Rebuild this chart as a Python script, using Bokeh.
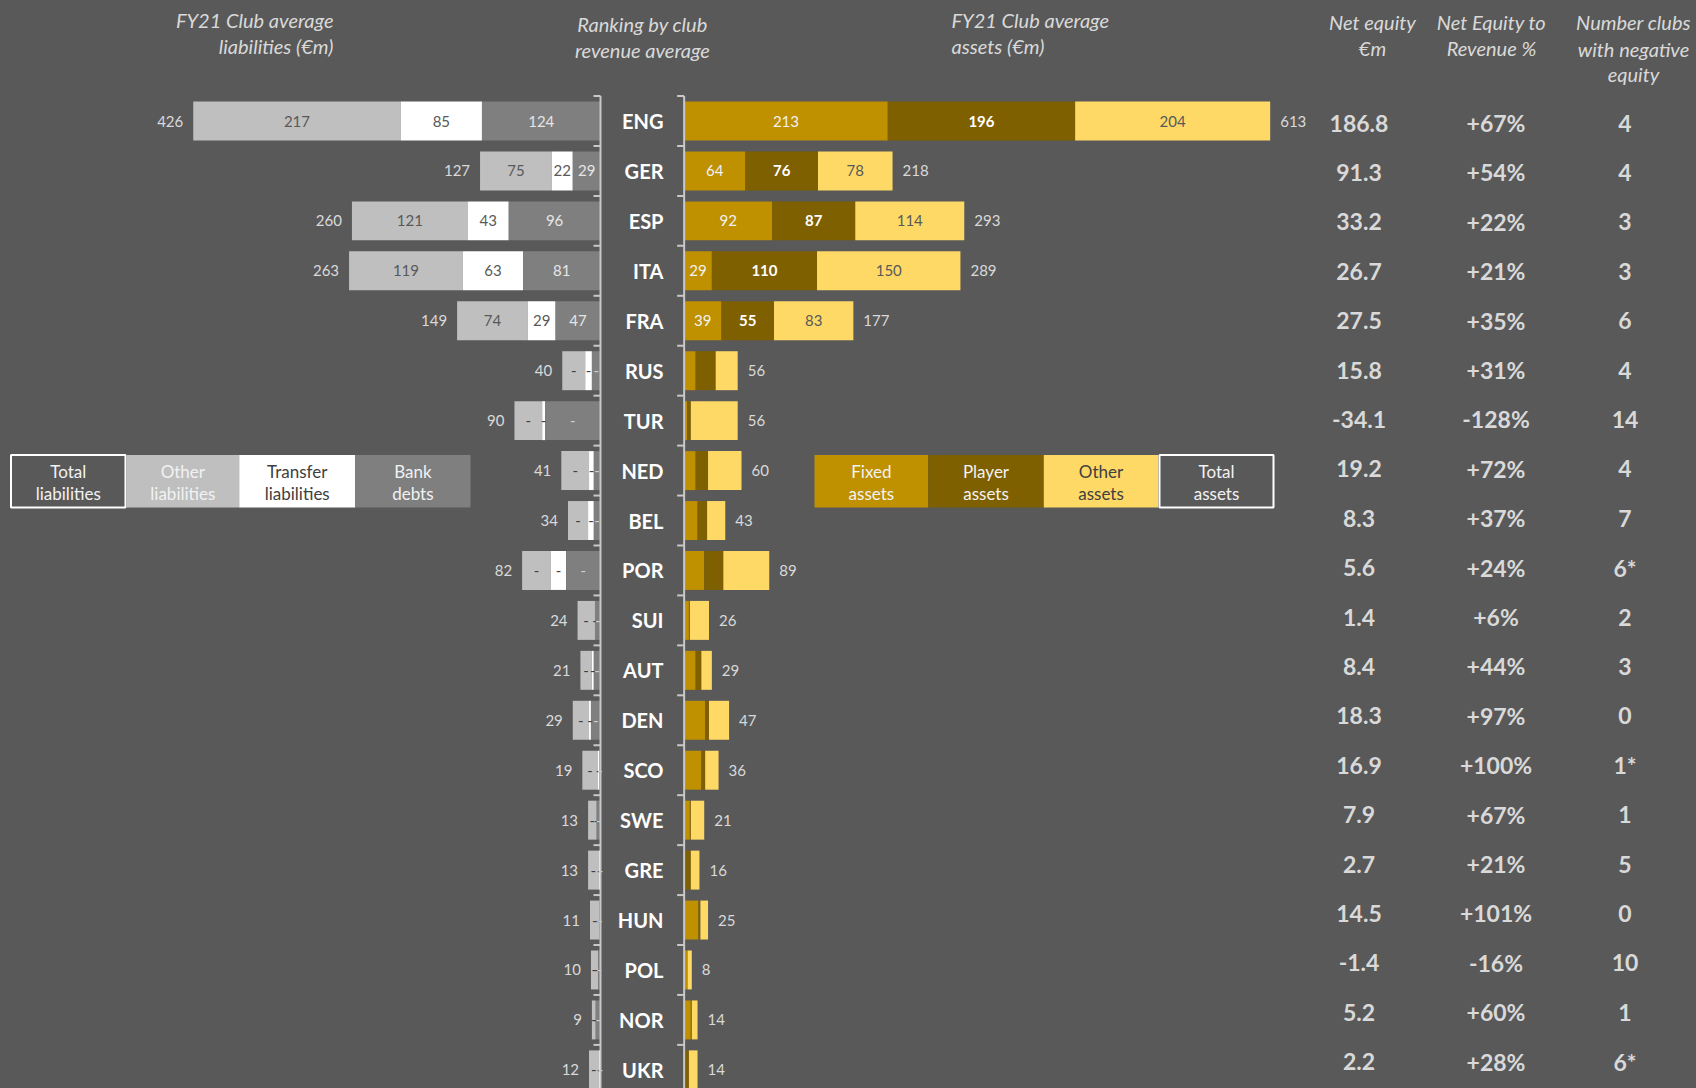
from bokeh.plotting import figure
from bokeh.models import Range1d, ColumnDataSource
from bokeh.embed import file_html
from bokeh.resources import INLINE
from bokeh.core.properties import value

# ---------------- data ----------------
countries = ["ENG", "GER", "ESP", "ITA", "FRA", "RUS", "TUR", "NED", "BEL", "POR",
             "SUI", "AUT", "DEN", "SCO", "SWE", "GRE", "HUN", "POL", "NOR", "UKR"]
total_liabilities = [426, 127, 260, 263, 149, 40, 90, 41, 34, 82, 24, 21, 29, 19, 13, 13, 11, 10, 9, 12]
other_liabilities = [217, 75, 121, 119, 74, 24, 29, 29, 21, 30, 18, 12, 17, 16, 9, 11, 10, 7, 4, 10]
transfer_liabilities = [85, 22, 43, 63, 29, 7, 3, 5, 6, 16, 0.5, 2, 2, 2, 0, 2, 0, 0.5, 0, 2]
bank_debts = [124, 29, 96, 81, 47, 9, 58, 7, 7, 36, 5.5, 7, 10, 1, 4, 0, 1, 2.5, 5, 0]
total_assets = [613, 218, 293, 289, 177, 56, 56, 60, 43, 89, 26, 29, 47, 36, 21, 16, 25, 8, 14, 14]
fixed_assets = [213, 64, 92, 29, 39, 12, 3, 12, 14, 21, 5, 12, 22, 18, 6, 1, 15, 3, 7, 1]
player_assets = [196, 76, 87, 110, 55, 21, 4, 13, 10, 20, 1, 6, 4, 4, 1, 6, 2, 0.5, 1, 4]
other_assets = [204, 78, 114, 150, 83, 23, 49, 35, 19, 48, 20, 11, 21, 14, 14, 9, 8, 4.5, 6, 9]
net_equity = ["186.8", "91.3", "33.2", "26.7", "27.5", "15.8", "-34.1", "19.2", "8.3", "5.6",
              "1.4", "8.4", "18.3", "16.9", "7.9", "2.7", "14.5", "-1.4", "5.2", "2.2"]
net_equity_to_revenue = ["+67%", "+54%", "+22%", "+21%", "+35%", "+31%", "-128%", "+72%", "+37%", "+24%",
                         "+6%", "+44%", "+97%", "+100%", "+67%", "+21%", "+101%", "-16%", "+60%", "+28%"]
negative_equity_clubs = ["4", "4", "3", "3", "6", "4", "14", "4", "7", "6*",
                         "2", "3", "0", "1*", "1", "5", "0", "10", "1", "6*"]
labelled_rows = 5  # first five leagues carry value labels

# ---------------- layout helpers ----------------
FONT = value("Lato")
BG = "#595959"
W, H = 1696, 1088
K = 0.956          # pixels per EUR m
ROW = 49.94        # pixels per row
X0, Y0 = 600.0, 120.5
GAP = 87.5         # space between the two axes, in EUR m units
BAR_H = 0.78


def dx(X):
    return (X - X0) / K


def dy(Y):
    return (Y - Y0) / ROW


p = figure(width=W, height=H,
           x_range=Range1d(dx(0), dx(W)), y_range=Range1d(dy(H), dy(0)),
           output_backend="svg", toolbar_location=None, min_border=0,
           x_axis_type=None, y_axis_type=None,
           background_fill_color=BG, border_fill_color=BG, outline_line_color=None)
p.grid.visible = False

n = len(countries)
rows = list(range(n))

# ---------------- liabilities (leftwards) ----------------
bank_r = [0.0] * n
bank_l = [-b for b in bank_debts]
tr_r = bank_l
tr_l = [-(b + t) for b, t in zip(bank_debts, transfer_liabilities)]
ot_r = tr_l
ot_l = [-(b + t + o) for b, t, o in zip(bank_debts, transfer_liabilities, other_liabilities)]

# ---------------- assets (rightwards) ----------------
fx_l = [GAP] * n
fx_r = [GAP + f for f in fixed_assets]
pl_l = fx_r
pl_r = [GAP + f + q for f, q in zip(fixed_assets, player_assets)]
oa_l = pl_r
oa_r = [GAP + f + q + o for f, q, o in zip(fixed_assets, player_assets, other_assets)]

segments = [
    (ot_l, ot_r, "#BFBFBF", other_liabilities, "#595959", "normal", "#404040"),
    (tr_l, tr_r, "#FFFFFF", transfer_liabilities, "#595959", "normal", "#404040"),
    (bank_l, bank_r, "#7F7F7F", bank_debts, "#E6E6E6", "normal", "#D0D0D0"),
    (fx_l, fx_r, "#BF9000", fixed_assets, "#F2F2F2", "normal", None),
    (pl_l, pl_r, "#7F6000", player_assets, "#FFFFFF", "bold", None),
    (oa_l, oa_r, "#FFD966", other_assets, "#595959", "normal", None),
]

for left, right, color, vals, tcol, tstyle, dashcol in segments:
    src = ColumnDataSource(dict(y=rows, left=left, right=right))
    p.hbar(y="y", left="left", right="right", height=BAR_H, source=src,
           fill_color=color, line_color=None)

for left, right, color, vals, tcol, tstyle, dashcol in segments:
    mids = [(a + b) / 2 for a, b in zip(left, right)]
    lab = ColumnDataSource(dict(x=mids[:labelled_rows], y=rows[:labelled_rows],
                                t=[str(v) for v in vals[:labelled_rows]]))
    p.text(x="x", y="y", text="t", source=lab, text_font=FONT, text_font_size=value("15px"),
           text_font_style=tstyle, text_color=tcol, text_align="center", text_baseline="middle")
    if dashcol:
        dl = ColumnDataSource(dict(x=mids[labelled_rows:], y=rows[labelled_rows:],
                                   t=["-"] * (n - labelled_rows)))
        p.text(x="x", y="y", text="t", source=dl, text_font=FONT, text_font_size=value("15px"),
               text_color=dashcol, text_align="center", text_baseline="middle")

# totals
tl = ColumnDataSource(dict(x=[v - 10 / K for v in ot_l], y=rows, t=[str(v) for v in total_liabilities]))
p.text(x="x", y="y", text="t", source=tl, text_font=FONT, text_font_size=value("15px"),
       text_color="#D9D9D9", text_align="right", text_baseline="middle")
ta = ColumnDataSource(dict(x=[v + 10 / K for v in oa_r], y=rows, t=[str(v) for v in total_assets]))
p.text(x="x", y="y", text="t", source=ta, text_font=FONT, text_font_size=value("15px"),
       text_color="#D9D9D9", text_align="left", text_baseline="middle")

# ---------------- axes with boundary ticks ----------------
AX = "#C8C8C8"
for ax in (0.0, GAP):
    p.segment(x0=[ax], y0=[-0.5], x1=[ax], y1=[n + 1], line_color=AX, line_width=2)
    bounds = [i - 0.5 for i in range(n + 1)]
    p.segment(x0=[ax - 7 / K] * len(bounds), y0=bounds, x1=[ax] * len(bounds), y1=bounds,
              line_color=AX, line_width=2)

# country names
cn = ColumnDataSource(dict(x=[dx(663)] * n, y=rows, t=countries))
p.text(x="x", y="y", text="t", source=cn, text_font=FONT, text_font_size=value("20px"),
       text_font_style="bold", text_color="#FFFFFF", text_align="right", text_baseline="middle")

# ---------------- table columns ----------------
ty = [dy(122.5 + i * 49.4) for i in rows]
for Xc, col in ((1358.5, net_equity), (1495.5, net_equity_to_revenue), (1624.5, negative_equity_clubs)):
    src = ColumnDataSource(dict(x=[dx(Xc)] * n, y=ty, t=col))
    p.text(x="x", y="y", text="t", source=src, text_font=FONT, text_font_size=value("23px"),
           text_font_style="bold", text_color="#D9D9D9", text_align="center", text_baseline="middle")

# ---------------- headers ----------------
HC = "#D9D9D9"


def header(X, Ys, lines, align):
    src = ColumnDataSource(dict(x=[dx(X)] * len(lines), y=[dy(Y) for Y in Ys], t=lines))
    p.text(x="x", y="y", text="t", source=src, text_font=FONT, text_font_size=value("20px"),
           text_font_style="italic", text_color=HC, text_align=align, text_baseline="middle")


header(333, [19.5, 45.4], ["FY21 Club average", "liabilities (€m)"], "right")
header(642, [23.8, 49.8], ["Ranking by club", "revenue average"], "center")
header(951, [19.5, 45.4], ["FY21 Club average", "assets (€m)"], "left")
header(1372, [21.6, 47.5], ["Net equity", "€m"], "center")
header(1491, [21.6, 47.5], ["Net Equity to", "Revenue %"], "center")
header(1633, [21.6, 48.0, 73.5], ["Number clubs", "with negative", "equity"], "center")

# ---------------- legends ----------------
def legend(boxes, y_top, y_bot):
    for (x_l, x_r, fill, outline, l1, l2, tcol) in boxes:
        p.quad(left=[dx(x_l)], right=[dx(x_r)], top=[dy(y_top)], bottom=[dy(y_bot)],
               fill_color=fill, line_color=outline if outline else None, line_width=2)
        xc = dx((x_l + x_r) / 2)
        src = ColumnDataSource(dict(x=[xc, xc], y=[dy(470.5), dy(492.5)], t=[l1, l2]))
        p.text(x="x", y="y", text="t", source=src, text_font=FONT, text_font_size=value("17px"),
               text_color=tcol, text_align="center", text_baseline="middle")


legend([
    (10.5, 125, BG, "#FFFFFF", "Total", "liabilities", "#F2F2F2"),
    (126, 238.7, "#BFBFBF", None, "Other", "liabilities", "#F2F2F2"),
    (238.7, 354.7, "#FFFFFF", None, "Transfer", "liabilities", "#404040"),
    (354.7, 470, "#7F7F7F", None, "Bank", "debts", "#F2F2F2"),
], 454.5, 507)

legend([
    (814, 927.7, "#BF9000", None, "Fixed", "assets", "#F2F2F2"),
    (927.7, 1043.3, "#7F6000", None, "Player", "assets", "#F2F2F2"),
    (1043.3, 1157.7, "#FFD966", None, "Other", "assets", "#404040"),
    (1159, 1273, BG, "#FFFFFF", "Total", "assets", "#F2F2F2"),
], 454.5, 507)

html = file_html(p, INLINE, title="FY21 club balance sheets")
html = html.replace("<head>", "<head><style>html,body{background:#595959;overflow:hidden;}</style>", 1)
open("out.html", "w").write(html)
